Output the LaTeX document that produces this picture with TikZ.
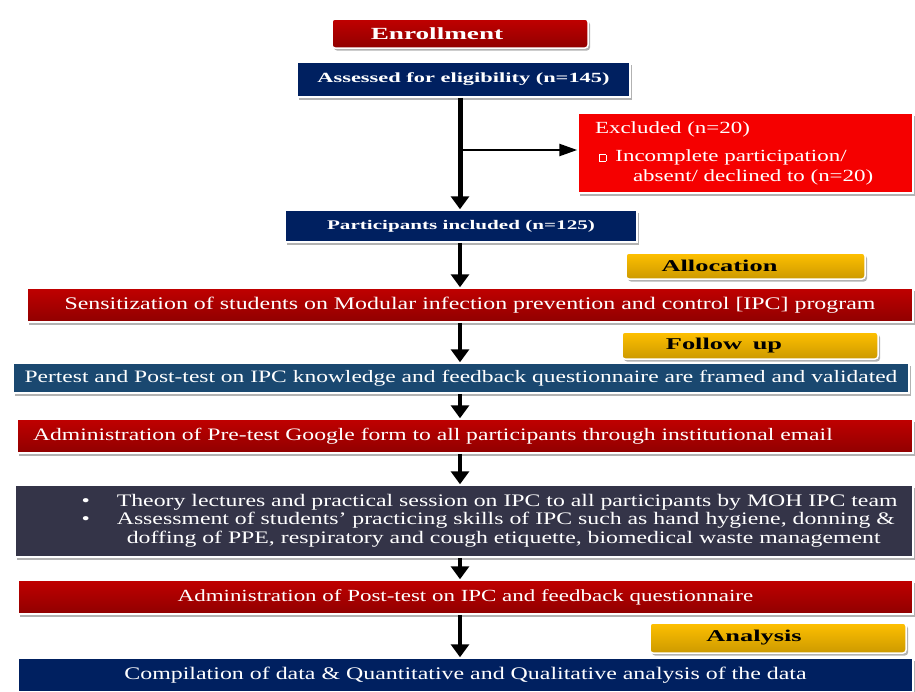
\documentclass[tikz,border=0pt]{standalone}
\usepackage{fontspec}
\setmainfont{Liberation Serif}[FakeStretch=1.35,BoldFeatures={FakeStretch=1.6}]
\usetikzlibrary{arrows.meta,shadows}

\definecolor{boxred}{RGB}{192,0,0}
\definecolor{brightred}{RGB}{245,0,0}
\definecolor{navy}{RGB}{0,32,96}
\definecolor{steel}{RGB}{26,72,112}
\definecolor{slate}{RGB}{52,52,72}
\definecolor{gold}{RGB}{255,192,0}

\newcommand{\fsz}[1]{\fontsize{#1}{#1}\selectfont}
\newcommand{\sqbullet}{{\fboxsep=0pt\fboxrule=0.7pt\fbox{\rule{0pt}{6pt}\hspace{6pt}}}}

\tikzset{
  box/.style={rectangle, draw=white, line width=1.5pt, inner sep=0pt, text=white,
    drop shadow={shadow xshift=2pt, shadow yshift=-2.5pt, opacity=0.3, fill=black}},
  redbox/.style={box, top color=boxred, middle color=boxred, bottom color=boxred!75!black},
  navybox/.style={box, fill=navy},
  steelbox/.style={box, fill=steel},
  slatebox/.style={box, fill=slate},
  exclbox/.style={box, fill=brightred},
  goldbox/.style={box, rounded corners=3pt, text=black, font=\fsz{16.5}\bfseries,
    top color=gold, middle color=gold, bottom color=gold!80!black},
  arr/.style={line width=4pt, -{Triangle[width=18pt,length=13pt]}},
  thinarr/.style={line width=2.5pt, -{Triangle[width=12pt,length=18pt]}}
}

\begin{document}
\begin{tikzpicture}[x=1pt,y=-1pt]
  \useasboundingbox (0,0) rectangle (915,691);
  % enrollment
  \node (enrol) at (460,33.5) [redbox, rounded corners=3pt, minimum width=256pt, minimum height=29pt,
    font=\fsz{17}\bfseries] {Enrollment\hspace*{46pt}};
  \node (assess) at (463.5,79.5) [navybox, minimum width=333pt, minimum height=35pt,
    font=\fsz{14}\bfseries] {Assessed for eligibility (n=145)};
  \node (excl) at (745.5,153) [exclbox, minimum width=335pt, minimum height=80pt,
    text width=301pt, inner xsep=17pt, align=left, font=\fsz{17}]
    {Excluded (n=20)\\[11pt]
     \hspace*{4pt}\sqbullet\hspace{9pt}Incomplete participation/\\[3pt]
     \hspace*{38pt}absent/ declined to (n=20)};
  \node (incl) at (461,226) [navybox, minimum width=352pt, minimum height=32pt,
    font=\fsz{13.2}\bfseries] {Participants included (n=125)};
  % allocation
  \node (alloc) at (745.5,266) [goldbox, minimum width=239pt, minimum height=26pt]
    {Allocation\hspace*{52pt}};
  \node (sens) at (470,305) [redbox, minimum width=886pt, minimum height=34pt,
    font=\fsz{17.7}] {Sensitization of students on Modular infection prevention and control [IPC] program};
  % follow up
  \node (follow) at (750,345.5) [goldbox, minimum width=256pt, minimum height=27pt]
    {Follow\hspace{4pt} up\hspace*{52pt}};
  \node (pert) at (461,378) [steelbox, minimum width=896pt, minimum height=30pt,
    font=\fsz{17.4}] {Pertest and Post-test on IPC knowledge and feedback questionnaire are framed and validated};
  \node (admin) at (465,436) [redbox, minimum width=896pt, minimum height=34pt,
    text width=864pt, inner xsep=16pt, align=left, font=\fsz{17.5}]
    {Administration of Pre-test Google form to all participants through institutional email};
  \node (theory) at (464,521) [slatebox, minimum width=898pt, minimum height=72pt,
    font=\fontsize{17.6}{18.5}\selectfont]
    {\hspace*{51pt}\begin{tabular}{@{}l@{\hspace{27pt}}l@{}}
      \textbullet & Theory lectures and practical session on IPC to all participants by MOH IPC team\\
      \textbullet & Assessment of students’ practicing skills of IPC such as hand hygiene, donning \&\\
                  & \hspace*{10pt}doffing of PPE, respiratory and cough etiquette, biomedical waste management
    \end{tabular}};
  \node (post) at (465.5,597) [redbox, minimum width=895pt, minimum height=34pt,
    font=\fsz{17}] {Administration of Post-test on IPC and feedback questionnaire};
  % analysis
  \node (analysis) at (778,638) [goldbox, minimum width=256pt, minimum height=30pt]
    {Analysis\hspace*{48pt}};
  \node (compil) at (465.5,675) [navybox, minimum width=895pt, minimum height=34pt,
    font=\fsz{17.7}] {Compilation of data \& Quantitative and Qualitative analysis of the data};

  % connectors
  \coordinate (spine) at (460,0);
  \coordinate (split) at (460,150);
  \draw[arr, line width=5pt] (assess.south -| spine) -- (incl.north -| spine);
  \draw[thinarr] (split) -- (split -| excl.west);
  \draw[arr] (incl.south -| spine) -- (sens.north -| spine);
  \draw[arr] (sens.south -| spine) -- (pert.north -| spine);
  \draw[arr] (pert.south -| spine) -- (admin.north -| spine);
  \draw[arr] (admin.south -| spine) -- (theory.north -| spine);
  \draw[arr] (theory.south -| spine) -- (post.north -| spine);
  \draw[arr] (post.south -| spine) -- (compil.north -| spine);
\end{tikzpicture}
\end{document}
